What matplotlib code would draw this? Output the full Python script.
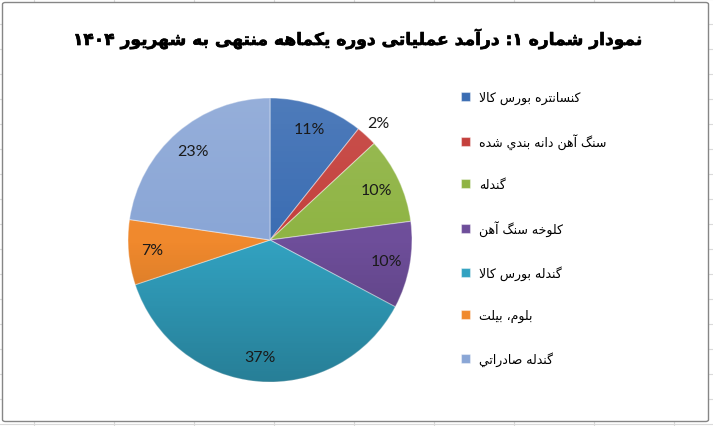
import re
import numpy as np
import matplotlib
matplotlib.use("Agg")
import matplotlib.pyplot as plt
import matplotlib.patheffects as pe
from matplotlib.patches import Circle, FancyBboxPatch
from matplotlib.lines import Line2D

title = "نمودار شماره ۱: درآمد عملیاتی دوره یکماهه منتهی به شهریور ۱۴۰۴"
labels = [
    "کنسانتره بورس کالا",
    "سنگ آهن دانه بندي شده",
    "گندله",
    "کلوخه سنگ آهن",
    "گندله بورس کالا",
    "بلوم، بیلت",
    "گندله صادراتي",
]
values = [10.7, 2.4, 9.8, 9.9, 37.1, 7.4, 22.7]
colors = ["#3B6DB3", "#C4403C", "#8FB444", "#6E4E9A", "#32A2C1", "#F0892D", "#8AA6D6"]


# --- tiny arabic/persian shaper (matplotlib has no text shaping) ---
def _f(start, n):
    return tuple(chr(start + i) for i in range(n))

FORMS = {
    "\u0621": _f(0xFE80, 1), "\u0622": _f(0xFE81, 2), "\u0623": _f(0xFE83, 2),
    "\u0624": _f(0xFE85, 2), "\u0625": _f(0xFE87, 2), "\u0626": _f(0xFE89, 4),
    "\u0627": _f(0xFE8D, 2), "\u0628": _f(0xFE8F, 4), "\u0629": _f(0xFE93, 2),
    "\u062A": _f(0xFE95, 4), "\u062B": _f(0xFE99, 4), "\u062C": _f(0xFE9D, 4),
    "\u062D": _f(0xFEA1, 4), "\u062E": _f(0xFEA5, 4), "\u062F": _f(0xFEA9, 2),
    "\u0630": _f(0xFEAB, 2), "\u0631": _f(0xFEAD, 2), "\u0632": _f(0xFEAF, 2),
    "\u0633": _f(0xFEB1, 4), "\u0634": _f(0xFEB5, 4), "\u0635": _f(0xFEB9, 4),
    "\u0636": _f(0xFEBD, 4), "\u0637": _f(0xFEC1, 4), "\u0638": _f(0xFEC5, 4),
    "\u0639": _f(0xFEC9, 4), "\u063A": _f(0xFECD, 4), "\u0641": _f(0xFED1, 4),
    "\u0642": _f(0xFED5, 4), "\u0643": _f(0xFED9, 4), "\u0644": _f(0xFEDD, 4),
    "\u0645": _f(0xFEE1, 4), "\u0646": _f(0xFEE5, 4), "\u0647": _f(0xFEE9, 4),
    "\u0648": _f(0xFEED, 2), "\u0649": _f(0xFEEF, 2), "\u064A": _f(0xFEF1, 4),
    "\u067E": _f(0xFB56, 4), "\u0686": _f(0xFB7A, 4), "\u0698": _f(0xFB8A, 2),
    "\u06A9": _f(0xFB8E, 4), "\u06AF": _f(0xFB92, 4), "\u06CC": _f(0xFBFC, 4),
}
LAM_ALEF = {"\u0627": ("\uFEFB", "\uFEFC"), "\u0622": ("\uFEF5", "\uFEF6")}


def shape(s):
    out, i = [], 0
    while i < len(s):
        c = s[i]
        if c not in FORMS:
            out.append(c)
            i += 1
            continue
        prev = s[i - 1] if i > 0 else ""
        cp = prev in FORMS and len(FORMS[prev]) == 4
        nxt = s[i + 1] if i + 1 < len(s) else ""
        if c == "\u0644" and nxt in LAM_ALEF:
            out.append(LAM_ALEF[nxt][1 if cp else 0])
            i += 2
            continue
        f = FORMS[c]
        if len(f) == 1:
            out.append(f[0])
            i += 1
            continue
        cn = len(f) == 4 and nxt in FORMS and len(FORMS[nxt]) > 1
        if cp and cn:
            out.append(f[3])
        elif cp:
            out.append(f[1])
        elif cn:
            out.append(f[2])
        else:
            out.append(f[0])
        i += 1
    return "".join(out)


def rtl(s):
    v = shape(s)[::-1]
    return re.sub(r"[0-9\u06F0-\u06F9]+", lambda m: m.group(0)[::-1], v)


W, H = 713, 427
fig = plt.figure(figsize=(W / 100, H / 100), dpi=100)
fig.patch.set_facecolor("white")

# excel sheet gridlines behind the chart
for gx in range(34, W, 80):
    fig.add_artist(Line2D([gx / W, gx / W], [0, 1], color="#DADADA", lw=0.8, zorder=-3))
for gy in range(0, H, 25):
    fig.add_artist(Line2D([0, 1], [1 - gy / H, 1 - gy / H], color="#DADADA", lw=0.8, zorder=-3))

# chart area
fig.add_artist(FancyBboxPatch((2.5 / W, 1 - 422.5 / H), 706 / W, 419 / H,
                              boxstyle="round,pad=0,rounding_size=0.004",
                              transform=fig.transFigure, facecolor="white",
                              edgecolor="#868686", lw=1.0, zorder=-2))

# pie
cx, cy, r = 270, 241, 142
ax = fig.add_axes([(cx - r) / W, (H - cy - r) / H, 2 * r / W, 2 * r / H])
wedges, texts, autotexts = ax.pie(
    values, colors=colors, startangle=90, counterclock=False,
    autopct="%1.0f%%", pctdistance=0.83,
    wedgeprops=dict(edgecolor=(1, 1, 1, 0.4), linewidth=0.8),
    textprops=dict(family="Lato", fontsize=11.5, color="#1a1a1a"))

# the small slice gets its label outside
w = wedges[1]
a = np.deg2rad((w.theta1 + w.theta2) / 2)
autotexts[1].set_position((1.12 * np.cos(a), 1.12 * np.sin(a)))

# soft light-to-dark shading over the pie
t = np.linspace(0, 1, 256)[:, None]
grad = np.zeros((256, 1, 4))
grad[..., :3] = np.where(t < 0.5, 1.0, 0.0)[..., None]
grad[..., 3] = np.where(t < 0.5, 0.10 * (1 - 2 * t), 0.22 * (2 * t - 1))
im = ax.imshow(grad, extent=(-1, 1, -1, 1), origin="upper", aspect="auto",
               interpolation="bilinear", zorder=2)
im.set_clip_path(Circle((0, 0), 1, transform=ax.transData))
for at in autotexts:
    at.set_zorder(4)
ax.set_xlim(-1, 1)
ax.set_ylim(-1, 1)
ax.axis("off")

# legend
fig.legend(wedges, [rtl(l) for l in labels], loc="upper left",
           bbox_to_anchor=(461 / W, 1 - 91.5 / H), frameon=False,
           prop=dict(family="DejaVu Sans", size=9),
           handlelength=0.72, handleheight=0.72, handletextpad=0.75,
           labelspacing=2.33, borderpad=0, borderaxespad=0)

fig.text(359 / W, 1 - 40 / H, rtl(title), ha="center", va="center",
         fontsize=12.3, fontweight="bold", family="DejaVu Sans", color="black",
         path_effects=[pe.withStroke(linewidth=0.45, foreground="black")])

fig.savefig("out.png", dpi=100)
